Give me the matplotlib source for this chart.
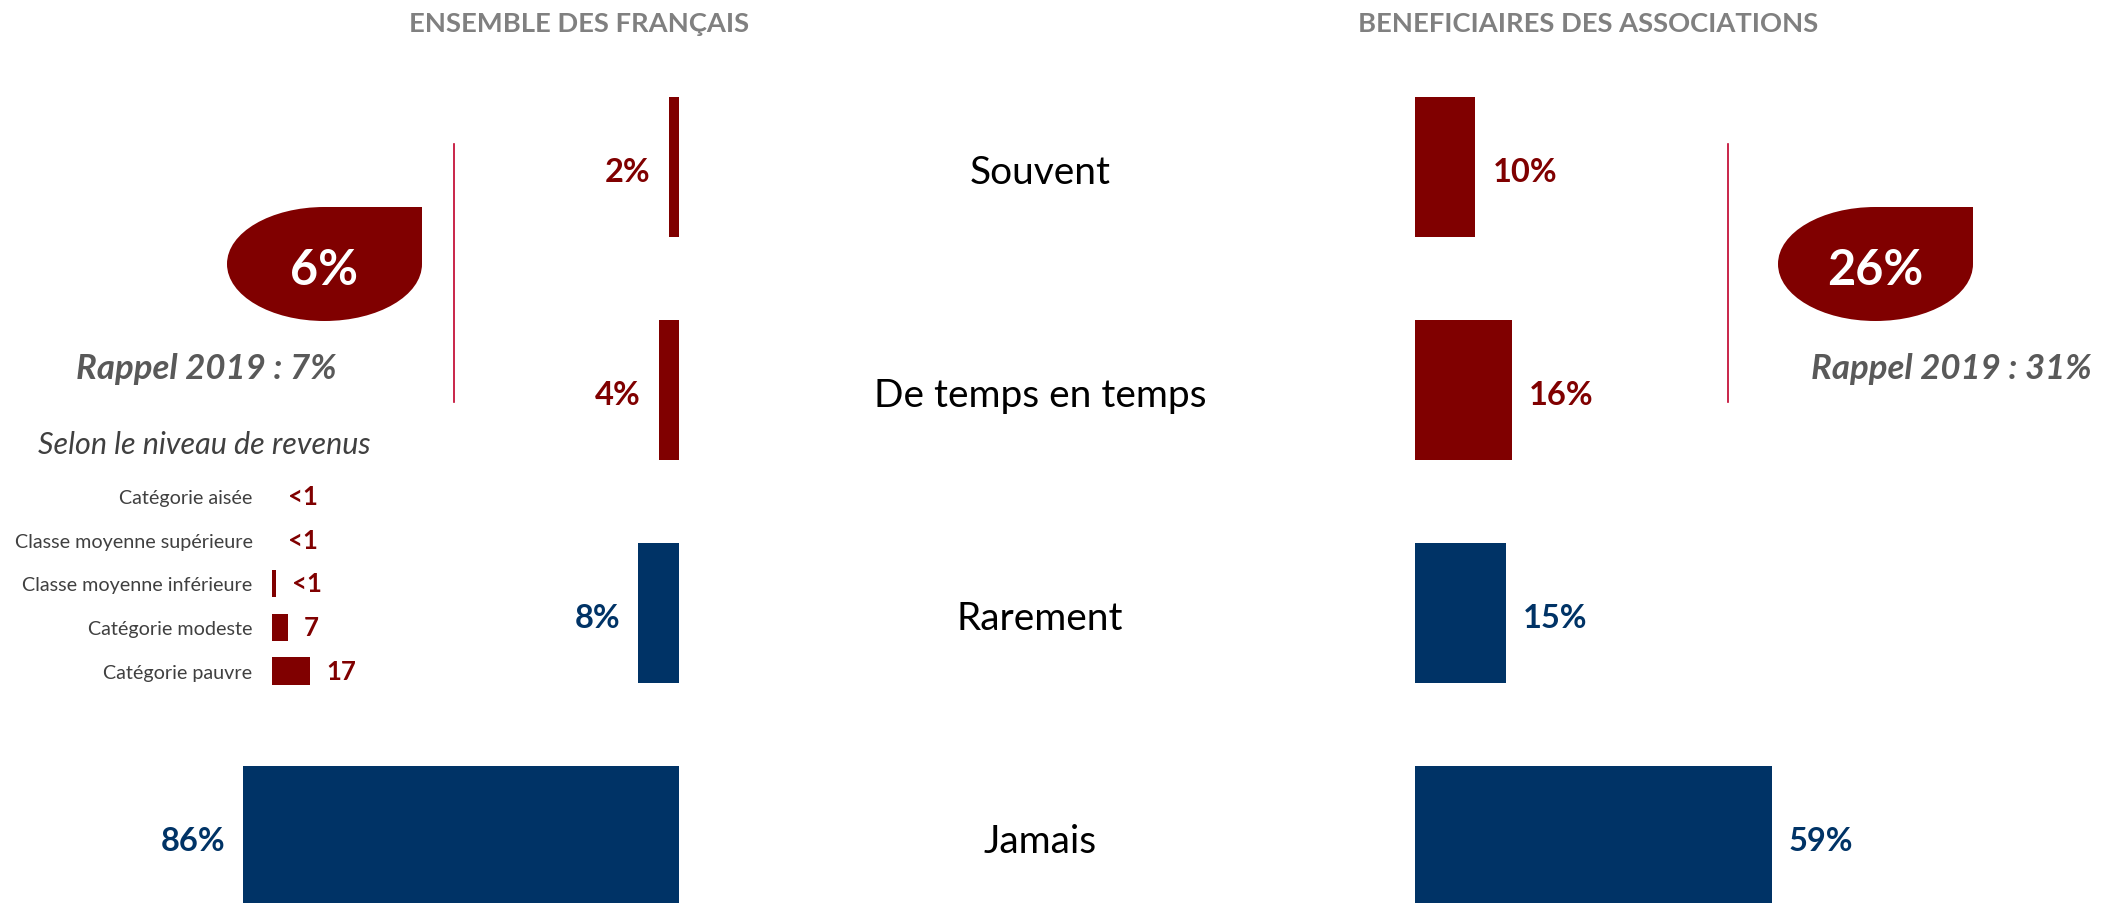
import numpy as np
import matplotlib
matplotlib.use("Agg")
import matplotlib.pyplot as plt
from matplotlib.path import Path
from matplotlib.patches import PathPatch

plt.rcParams['font.family'] = ['Lato', 'DejaVu Sans']

# Data
frequences = ['Souvent', 'De temps en temps', 'Rarement', 'Jamais']
ensemble = [2, 4, 8, 86]
beneficiaires = [10, 16, 15, 59]
groupes = ['ENSEMBLE DES FRANÇAIS', 'BENEFICIAIRES DES ASSOCIATIONS']
total_souvent = [6, 26]
rappel_2019 = [7, 31]

revenus = ['Catégorie aisée', 'Classe moyenne supérieure', 'Classe moyenne inférieure',
           'Catégorie modeste', 'Catégorie pauvre']
revenus_vals = [0, 0, 1.8, 7, 17]
revenus_labels = ['<1', '<1', '<1', '7', '17']

RED = '#800000'
BLUE = '#003366'
bar_colors = [RED, RED, BLUE, BLUE]

W, H = 2106, 904
fig = plt.figure(figsize=(W / 100, H / 100), dpi=100)
fig.patch.set_facecolor('white')


def rect(x0, y0, x1, y1):
    # pixel box (top-left origin) -> figure fraction
    return [x0 / W, 1 - y1 / H, (x1 - x0) / W, (y1 - y0) / H]


# decoration layer (pixel coordinates)
ax_o = fig.add_axes([0, 0, 1, 1])
ax_o.set_xlim(0, W)
ax_o.set_ylim(H, 0)
ax_o.axis('off')


def teardrop(cx, cy, rx, ry):
    k = 0.5523
    verts = [(cx + rx, cy - ry), (cx + rx, cy),
             (cx + rx, cy + k * ry), (cx + k * rx, cy + ry), (cx, cy + ry),
             (cx - k * rx, cy + ry), (cx - rx, cy + k * ry), (cx - rx, cy),
             (cx - rx, cy - k * ry), (cx - k * rx, cy - ry), (cx, cy - ry),
             (cx + rx, cy - ry), (cx + rx, cy - ry)]
    codes = [Path.MOVETO, Path.LINETO] + [Path.CURVE4] * 9 + [Path.LINETO, Path.CLOSEPOLY]
    return PathPatch(Path(verts, codes), facecolor=RED, edgecolor='none')


drops = [(324.5, 265), (1875.5, 265)]
rappel_x = [206, 1951]
sep_x = [454, 1728]
for (cx, cy), tot, rap, rx_, sx in zip(drops, total_souvent, rappel_2019, rappel_x, sep_x):
    ax_o.add_patch(teardrop(cx, cy, 97.5, 57))
    ax_o.text(cx, cy + 6, f'{tot}%', color='white', fontsize=35, fontweight='bold',
              ha='center', va='center')
    ax_o.text(rx_, 369, f'Rappel 2019 : {rap}%', color='#595959', fontsize=25,
              fontweight='bold', fontstyle='italic', ha='center', va='center')
    ax_o.plot([sx, sx], [145, 403], color='#C0002A', lw=1.2)

for g, x in zip(groupes, [579, 1588]):
    ax_o.text(x, 24, g, color='#808080', fontsize=19.7, fontweight='bold',
              ha='center', va='center')

ax_o.text(204, 445, 'Selon le niveau de revenus', color='#404040', fontsize=22,
          fontstyle='italic', ha='center', va='center')

# main bars
ylim_main = (3.3004, -0.7534)
rows = np.arange(len(frequences))

ax_l = fig.add_axes(rect(100, 0, 679, H))
ax_l.barh(rows, ensemble, height=0.628, color=bar_colors)
ax_l.set_xlim(114.2, 0)
ax_l.set_ylim(*ylim_main)
ax_l.axis('off')
for i, v in enumerate(ensemble):
    ax_l.annotate(f'{v}%', (v, i), xytext=(-18, -4), textcoords='offset pixels',
                  ha='right', va='center', color=bar_colors[i], fontsize=23.5,
                  fontweight='bold')

ax_r = fig.add_axes(rect(1415, 0, 2006, H))
ax_r.barh(rows, beneficiaires, height=0.628, color=bar_colors)
ax_r.set_xlim(0, 97.7)
ax_r.set_ylim(*ylim_main)
ax_r.axis('off')
for i, v in enumerate(beneficiaires):
    ax_r.annotate(f'{v}%', (v, i), xytext=(17, -4), textcoords='offset pixels',
                  ha='left', va='center', color=bar_colors[i], fontsize=23.5,
                  fontweight='bold')

for i, f in enumerate(frequences):
    ax_l.annotate(f, (1040 / W, i), xycoords=('figure fraction', 'data'),
                  xytext=(0, -5), textcoords='offset pixels',
                  ha='center', va='center', fontsize=28, color='black',
                  annotation_clip=False)

# income breakdown
ax_i = fig.add_axes(rect(272, 470, 422, 700))
rrows = np.arange(len(revenus))
ax_i.barh(rrows, revenus_vals, height=0.62, color=RED)
ax_i.set_xlim(0, 67)
ax_i.set_ylim(4.64, -0.617)
ax_i.set_yticks(rrows)
ax_i.set_yticklabels(revenus, fontsize=14.2, color='#404040')
ax_i.tick_params(axis='y', length=0, pad=14)
ax_i.set_xticks([])
for s in ax_i.spines.values():
    s.set_visible(False)
ax_i.patch.set_alpha(0)
for i, (v, lab) in enumerate(zip(revenus_vals, revenus_labels)):
    ax_i.annotate(lab, (v, i), xytext=(16, 0), textcoords='offset pixels',
                  ha='left', va='center', color=RED, fontsize=18.5, fontweight='bold')

fig.savefig('out.png', dpi=100, facecolor='white')
